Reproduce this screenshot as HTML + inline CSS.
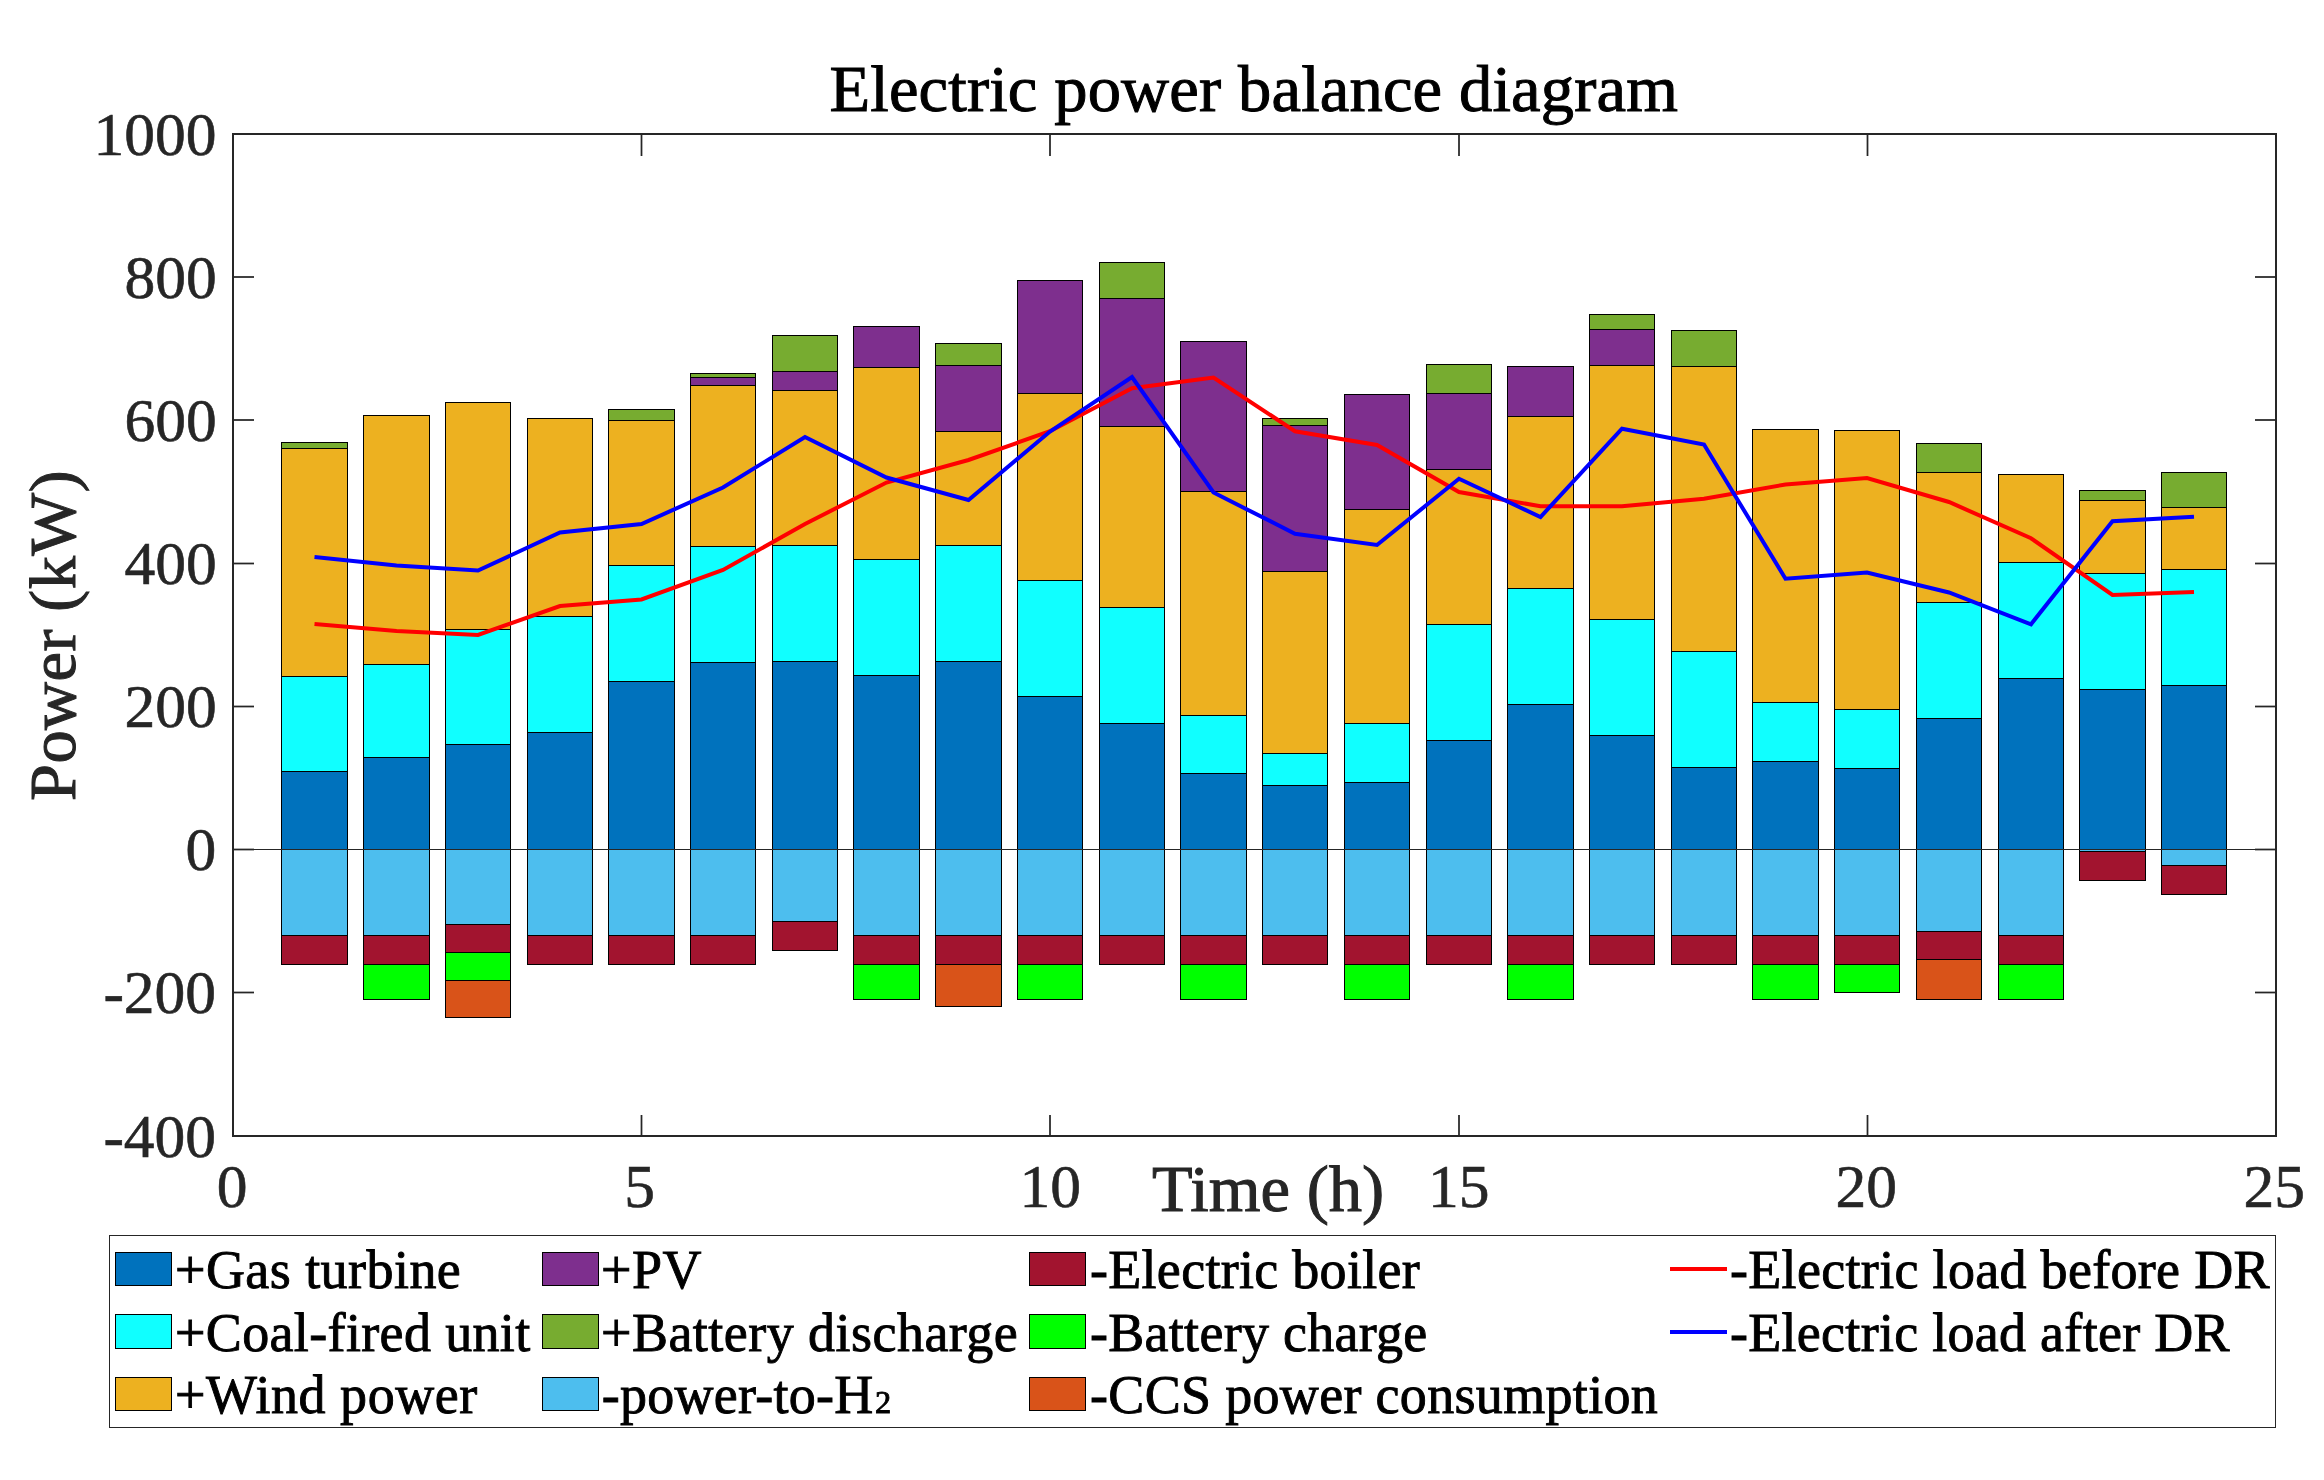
<!DOCTYPE html>
<html lang="en"><head><meta charset="utf-8"><title>Electric power balance diagram</title>
<style>html,body{margin:0;padding:0;background:#fff}body{width:2324px;height:1480px;overflow:hidden}svg{display:block}text{font-family:"Liberation Serif","Times New Roman",serif}.tk{font-size:61.5px;fill:#262626;stroke:#262626;stroke-width:0.6px}.lb{font-size:66.5px;fill:#262626;stroke:#262626;stroke-width:1px}.tt{font-size:66.5px;fill:#000;stroke:#000;stroke-width:1px}.lg{font-size:54px;fill:#000;stroke:#000;stroke-width:0.9px}</style></head><body>
<svg width="2324" height="1480" viewBox="0 0 2324 1480">
<rect width="2324" height="1480" fill="#fff"/>
<g shape-rendering="crispEdges" stroke="#000" stroke-width="1">
<rect x="281.5" y="442.5" width="66.0" height="6.0" fill="#77AC30"/>
<rect x="281.5" y="448.5" width="66.0" height="228.0" fill="#EDB120"/>
<rect x="281.5" y="676.5" width="66.0" height="95.0" fill="#10FFFF"/>
<rect x="281.5" y="771.5" width="66.0" height="78.0" fill="#0072BD"/>
<rect x="281.5" y="849.5" width="66.0" height="86.0" fill="#4DBEEE"/>
<rect x="281.5" y="935.5" width="66.0" height="29.0" fill="#A2142F"/>
<rect x="363.5" y="415.5" width="66.0" height="249.0" fill="#EDB120"/>
<rect x="363.5" y="664.5" width="66.0" height="93.0" fill="#10FFFF"/>
<rect x="363.5" y="757.5" width="66.0" height="92.0" fill="#0072BD"/>
<rect x="363.5" y="849.5" width="66.0" height="86.0" fill="#4DBEEE"/>
<rect x="363.5" y="935.5" width="66.0" height="29.0" fill="#A2142F"/>
<rect x="363.5" y="964.5" width="66.0" height="35.0" fill="#00FF00"/>
<rect x="445.5" y="402.5" width="65.0" height="227.0" fill="#EDB120"/>
<rect x="445.5" y="629.5" width="65.0" height="115.0" fill="#10FFFF"/>
<rect x="445.5" y="744.5" width="65.0" height="105.0" fill="#0072BD"/>
<rect x="445.5" y="849.5" width="65.0" height="75.0" fill="#4DBEEE"/>
<rect x="445.5" y="924.5" width="65.0" height="28.0" fill="#A2142F"/>
<rect x="445.5" y="952.5" width="65.0" height="28.0" fill="#00FF00"/>
<rect x="445.5" y="980.5" width="65.0" height="37.0" fill="#D95319"/>
<rect x="527.5" y="418.5" width="65.0" height="198.0" fill="#EDB120"/>
<rect x="527.5" y="616.5" width="65.0" height="116.0" fill="#10FFFF"/>
<rect x="527.5" y="732.5" width="65.0" height="117.0" fill="#0072BD"/>
<rect x="527.5" y="849.5" width="65.0" height="86.0" fill="#4DBEEE"/>
<rect x="527.5" y="935.5" width="65.0" height="29.0" fill="#A2142F"/>
<rect x="608.5" y="409.5" width="66.0" height="11.0" fill="#77AC30"/>
<rect x="608.5" y="420.5" width="66.0" height="145.0" fill="#EDB120"/>
<rect x="608.5" y="565.5" width="66.0" height="116.0" fill="#10FFFF"/>
<rect x="608.5" y="681.5" width="66.0" height="168.0" fill="#0072BD"/>
<rect x="608.5" y="849.5" width="66.0" height="86.0" fill="#4DBEEE"/>
<rect x="608.5" y="935.5" width="66.0" height="29.0" fill="#A2142F"/>
<rect x="690.5" y="373.5" width="65.0" height="4.0" fill="#77AC30"/>
<rect x="690.5" y="377.5" width="65.0" height="8.0" fill="#7E2F8E"/>
<rect x="690.5" y="385.5" width="65.0" height="161.0" fill="#EDB120"/>
<rect x="690.5" y="546.5" width="65.0" height="116.0" fill="#10FFFF"/>
<rect x="690.5" y="662.5" width="65.0" height="187.0" fill="#0072BD"/>
<rect x="690.5" y="849.5" width="65.0" height="86.0" fill="#4DBEEE"/>
<rect x="690.5" y="935.5" width="65.0" height="29.0" fill="#A2142F"/>
<rect x="772.5" y="335.5" width="65.0" height="36.0" fill="#77AC30"/>
<rect x="772.5" y="371.5" width="65.0" height="19.0" fill="#7E2F8E"/>
<rect x="772.5" y="390.5" width="65.0" height="155.0" fill="#EDB120"/>
<rect x="772.5" y="545.5" width="65.0" height="116.0" fill="#10FFFF"/>
<rect x="772.5" y="661.5" width="65.0" height="188.0" fill="#0072BD"/>
<rect x="772.5" y="849.5" width="65.0" height="72.0" fill="#4DBEEE"/>
<rect x="772.5" y="921.5" width="65.0" height="29.0" fill="#A2142F"/>
<rect x="853.5" y="326.5" width="66.0" height="41.0" fill="#7E2F8E"/>
<rect x="853.5" y="367.5" width="66.0" height="192.0" fill="#EDB120"/>
<rect x="853.5" y="559.5" width="66.0" height="116.0" fill="#10FFFF"/>
<rect x="853.5" y="675.5" width="66.0" height="174.0" fill="#0072BD"/>
<rect x="853.5" y="849.5" width="66.0" height="86.0" fill="#4DBEEE"/>
<rect x="853.5" y="935.5" width="66.0" height="29.0" fill="#A2142F"/>
<rect x="853.5" y="964.5" width="66.0" height="35.0" fill="#00FF00"/>
<rect x="935.5" y="343.5" width="66.0" height="22.0" fill="#77AC30"/>
<rect x="935.5" y="365.5" width="66.0" height="66.0" fill="#7E2F8E"/>
<rect x="935.5" y="431.5" width="66.0" height="114.0" fill="#EDB120"/>
<rect x="935.5" y="545.5" width="66.0" height="116.0" fill="#10FFFF"/>
<rect x="935.5" y="661.5" width="66.0" height="188.0" fill="#0072BD"/>
<rect x="935.5" y="849.5" width="66.0" height="86.0" fill="#4DBEEE"/>
<rect x="935.5" y="935.5" width="66.0" height="29.0" fill="#A2142F"/>
<rect x="935.5" y="964.5" width="66.0" height="42.0" fill="#D95319"/>
<rect x="1017.5" y="280.5" width="65.0" height="113.0" fill="#7E2F8E"/>
<rect x="1017.5" y="393.5" width="65.0" height="187.0" fill="#EDB120"/>
<rect x="1017.5" y="580.5" width="65.0" height="116.0" fill="#10FFFF"/>
<rect x="1017.5" y="696.5" width="65.0" height="153.0" fill="#0072BD"/>
<rect x="1017.5" y="849.5" width="65.0" height="86.0" fill="#4DBEEE"/>
<rect x="1017.5" y="935.5" width="65.0" height="29.0" fill="#A2142F"/>
<rect x="1017.5" y="964.5" width="65.0" height="35.0" fill="#00FF00"/>
<rect x="1099.5" y="262.5" width="65.0" height="36.0" fill="#77AC30"/>
<rect x="1099.5" y="298.5" width="65.0" height="128.0" fill="#7E2F8E"/>
<rect x="1099.5" y="426.5" width="65.0" height="181.0" fill="#EDB120"/>
<rect x="1099.5" y="607.5" width="65.0" height="116.0" fill="#10FFFF"/>
<rect x="1099.5" y="723.5" width="65.0" height="126.0" fill="#0072BD"/>
<rect x="1099.5" y="849.5" width="65.0" height="86.0" fill="#4DBEEE"/>
<rect x="1099.5" y="935.5" width="65.0" height="29.0" fill="#A2142F"/>
<rect x="1180.5" y="341.5" width="66.0" height="150.0" fill="#7E2F8E"/>
<rect x="1180.5" y="491.5" width="66.0" height="224.0" fill="#EDB120"/>
<rect x="1180.5" y="715.5" width="66.0" height="58.0" fill="#10FFFF"/>
<rect x="1180.5" y="773.5" width="66.0" height="76.0" fill="#0072BD"/>
<rect x="1180.5" y="849.5" width="66.0" height="86.0" fill="#4DBEEE"/>
<rect x="1180.5" y="935.5" width="66.0" height="29.0" fill="#A2142F"/>
<rect x="1180.5" y="964.5" width="66.0" height="35.0" fill="#00FF00"/>
<rect x="1262.5" y="418.5" width="65.0" height="7.0" fill="#77AC30"/>
<rect x="1262.5" y="425.5" width="65.0" height="146.0" fill="#7E2F8E"/>
<rect x="1262.5" y="571.5" width="65.0" height="182.0" fill="#EDB120"/>
<rect x="1262.5" y="753.5" width="65.0" height="32.0" fill="#10FFFF"/>
<rect x="1262.5" y="785.5" width="65.0" height="64.0" fill="#0072BD"/>
<rect x="1262.5" y="849.5" width="65.0" height="86.0" fill="#4DBEEE"/>
<rect x="1262.5" y="935.5" width="65.0" height="29.0" fill="#A2142F"/>
<rect x="1344.5" y="394.5" width="65.0" height="115.0" fill="#7E2F8E"/>
<rect x="1344.5" y="509.5" width="65.0" height="214.0" fill="#EDB120"/>
<rect x="1344.5" y="723.5" width="65.0" height="59.0" fill="#10FFFF"/>
<rect x="1344.5" y="782.5" width="65.0" height="67.0" fill="#0072BD"/>
<rect x="1344.5" y="849.5" width="65.0" height="86.0" fill="#4DBEEE"/>
<rect x="1344.5" y="935.5" width="65.0" height="29.0" fill="#A2142F"/>
<rect x="1344.5" y="964.5" width="65.0" height="35.0" fill="#00FF00"/>
<rect x="1426.5" y="364.5" width="65.0" height="29.0" fill="#77AC30"/>
<rect x="1426.5" y="393.5" width="65.0" height="76.0" fill="#7E2F8E"/>
<rect x="1426.5" y="469.5" width="65.0" height="155.0" fill="#EDB120"/>
<rect x="1426.5" y="624.5" width="65.0" height="116.0" fill="#10FFFF"/>
<rect x="1426.5" y="740.5" width="65.0" height="109.0" fill="#0072BD"/>
<rect x="1426.5" y="849.5" width="65.0" height="86.0" fill="#4DBEEE"/>
<rect x="1426.5" y="935.5" width="65.0" height="29.0" fill="#A2142F"/>
<rect x="1507.5" y="366.5" width="66.0" height="50.0" fill="#7E2F8E"/>
<rect x="1507.5" y="416.5" width="66.0" height="172.0" fill="#EDB120"/>
<rect x="1507.5" y="588.5" width="66.0" height="116.0" fill="#10FFFF"/>
<rect x="1507.5" y="704.5" width="66.0" height="145.0" fill="#0072BD"/>
<rect x="1507.5" y="849.5" width="66.0" height="86.0" fill="#4DBEEE"/>
<rect x="1507.5" y="935.5" width="66.0" height="29.0" fill="#A2142F"/>
<rect x="1507.5" y="964.5" width="66.0" height="35.0" fill="#00FF00"/>
<rect x="1589.5" y="314.5" width="65.0" height="15.0" fill="#77AC30"/>
<rect x="1589.5" y="329.5" width="65.0" height="36.0" fill="#7E2F8E"/>
<rect x="1589.5" y="365.5" width="65.0" height="254.0" fill="#EDB120"/>
<rect x="1589.5" y="619.5" width="65.0" height="116.0" fill="#10FFFF"/>
<rect x="1589.5" y="735.5" width="65.0" height="114.0" fill="#0072BD"/>
<rect x="1589.5" y="849.5" width="65.0" height="86.0" fill="#4DBEEE"/>
<rect x="1589.5" y="935.5" width="65.0" height="29.0" fill="#A2142F"/>
<rect x="1671.5" y="330.5" width="65.0" height="36.0" fill="#77AC30"/>
<rect x="1671.5" y="366.5" width="65.0" height="285.0" fill="#EDB120"/>
<rect x="1671.5" y="651.5" width="65.0" height="116.0" fill="#10FFFF"/>
<rect x="1671.5" y="767.5" width="65.0" height="82.0" fill="#0072BD"/>
<rect x="1671.5" y="849.5" width="65.0" height="86.0" fill="#4DBEEE"/>
<rect x="1671.5" y="935.5" width="65.0" height="29.0" fill="#A2142F"/>
<rect x="1752.5" y="429.5" width="66.0" height="273.0" fill="#EDB120"/>
<rect x="1752.5" y="702.5" width="66.0" height="59.0" fill="#10FFFF"/>
<rect x="1752.5" y="761.5" width="66.0" height="88.0" fill="#0072BD"/>
<rect x="1752.5" y="849.5" width="66.0" height="86.0" fill="#4DBEEE"/>
<rect x="1752.5" y="935.5" width="66.0" height="29.0" fill="#A2142F"/>
<rect x="1752.5" y="964.5" width="66.0" height="35.0" fill="#00FF00"/>
<rect x="1834.5" y="430.5" width="65.0" height="279.0" fill="#EDB120"/>
<rect x="1834.5" y="709.5" width="65.0" height="59.0" fill="#10FFFF"/>
<rect x="1834.5" y="768.5" width="65.0" height="81.0" fill="#0072BD"/>
<rect x="1834.5" y="849.5" width="65.0" height="86.0" fill="#4DBEEE"/>
<rect x="1834.5" y="935.5" width="65.0" height="29.0" fill="#A2142F"/>
<rect x="1834.5" y="964.5" width="65.0" height="28.0" fill="#00FF00"/>
<rect x="1916.5" y="443.5" width="65.0" height="29.0" fill="#77AC30"/>
<rect x="1916.5" y="472.5" width="65.0" height="130.0" fill="#EDB120"/>
<rect x="1916.5" y="602.5" width="65.0" height="116.0" fill="#10FFFF"/>
<rect x="1916.5" y="718.5" width="65.0" height="131.0" fill="#0072BD"/>
<rect x="1916.5" y="849.5" width="65.0" height="82.0" fill="#4DBEEE"/>
<rect x="1916.5" y="931.5" width="65.0" height="28.0" fill="#A2142F"/>
<rect x="1916.5" y="959.5" width="65.0" height="40.0" fill="#D95319"/>
<rect x="1998.5" y="474.5" width="65.0" height="88.0" fill="#EDB120"/>
<rect x="1998.5" y="562.5" width="65.0" height="116.0" fill="#10FFFF"/>
<rect x="1998.5" y="678.5" width="65.0" height="171.0" fill="#0072BD"/>
<rect x="1998.5" y="849.5" width="65.0" height="86.0" fill="#4DBEEE"/>
<rect x="1998.5" y="935.5" width="65.0" height="29.0" fill="#A2142F"/>
<rect x="1998.5" y="964.5" width="65.0" height="35.0" fill="#00FF00"/>
<rect x="2079.5" y="490.5" width="66.0" height="10.0" fill="#77AC30"/>
<rect x="2079.5" y="500.5" width="66.0" height="73.0" fill="#EDB120"/>
<rect x="2079.5" y="573.5" width="66.0" height="116.0" fill="#10FFFF"/>
<rect x="2079.5" y="689.5" width="66.0" height="160.0" fill="#0072BD"/>
<rect x="2079.5" y="849.5" width="66.0" height="2.0" fill="#4DBEEE"/>
<rect x="2079.5" y="851.5" width="66.0" height="29.0" fill="#A2142F"/>
<rect x="2161.5" y="472.5" width="65.0" height="35.0" fill="#77AC30"/>
<rect x="2161.5" y="507.5" width="65.0" height="62.0" fill="#EDB120"/>
<rect x="2161.5" y="569.5" width="65.0" height="116.0" fill="#10FFFF"/>
<rect x="2161.5" y="685.5" width="65.0" height="164.0" fill="#0072BD"/>
<rect x="2161.5" y="849.5" width="65.0" height="16.0" fill="#4DBEEE"/>
<rect x="2161.5" y="865.5" width="65.0" height="29.0" fill="#A2142F"/>
</g>
<line x1="233" y1="849.5" x2="2276" y2="849.5" stroke="#262626" stroke-width="1" shape-rendering="crispEdges"/>
<polyline fill="none" stroke="#FF0000" stroke-width="4" stroke-linejoin="miter" points="314.5,624 396.5,631 478.0,635 560.0,606 641.5,599.5 723.0,570 805.0,524 886.5,482.5 968.5,460 1050.0,431.25 1132.0,388.25 1213.5,377.5 1295.0,431.25 1377.0,445 1459.0,492 1540.5,506.25 1622.0,506.25 1704.0,498.75 1785.5,484.5 1867.0,478 1949.0,502 2031.0,538.25 2112.5,595 2194.0,592"/>
<polyline fill="none" stroke="#0000FF" stroke-width="4" stroke-linejoin="miter" points="314.5,557 396.5,565.5 478.0,570.5 560.0,532.5 641.5,524 723.0,487.5 805.0,437 886.5,477.5 968.5,500 1050.0,431.5 1132.0,377 1213.5,492.5 1295.0,533.75 1377.0,545 1459.0,478.75 1540.5,517 1622.0,428.75 1704.0,444.5 1785.5,578.75 1867.0,572.5 1949.0,592.5 2031.0,624.25 2112.5,521.25 2194.0,516.75"/>
<g stroke="#262626" shape-rendering="crispEdges" fill="none">
<rect x="233" y="134" width="2043" height="1002" stroke-width="2"/>
</g><g stroke="#262626" fill="none">
<line x1="641.5" y1="1136" x2="641.5" y2="1115" stroke-width="1.75"/>
<line x1="641.5" y1="134" x2="641.5" y2="156" stroke-width="1.75"/>
<line x1="1050" y1="1136" x2="1050" y2="1115" stroke-width="1.75"/>
<line x1="1050" y1="134" x2="1050" y2="156" stroke-width="1.75"/>
<line x1="1459" y1="1136" x2="1459" y2="1115" stroke-width="1.75"/>
<line x1="1459" y1="134" x2="1459" y2="156" stroke-width="1.75"/>
<line x1="1867.5" y1="1136" x2="1867.5" y2="1115" stroke-width="1.75"/>
<line x1="1867.5" y1="134" x2="1867.5" y2="156" stroke-width="1.75"/>
<line x1="233" y1="277" x2="254" y2="277" stroke-width="1.75"/>
<line x1="2276" y1="277" x2="2255" y2="277" stroke-width="1.75"/>
<line x1="233" y1="420" x2="254" y2="420" stroke-width="1.75"/>
<line x1="2276" y1="420" x2="2255" y2="420" stroke-width="1.75"/>
<line x1="233" y1="563.5" x2="254" y2="563.5" stroke-width="1.75"/>
<line x1="2276" y1="563.5" x2="2255" y2="563.5" stroke-width="1.75"/>
<line x1="233" y1="706.5" x2="254" y2="706.5" stroke-width="1.75"/>
<line x1="2276" y1="706.5" x2="2255" y2="706.5" stroke-width="1.75"/>
<line x1="233" y1="849.5" x2="254" y2="849.5" stroke-width="1.75"/>
<line x1="2276" y1="849.5" x2="2255" y2="849.5" stroke-width="1.75"/>
<line x1="233" y1="992.5" x2="254" y2="992.5" stroke-width="1.75"/>
<line x1="2276" y1="992.5" x2="2255" y2="992.5" stroke-width="1.75"/>
</g>
<text class="tk" x="93.4" y="154.7">1000</text>
<text class="tk" x="124.4" y="297.7">800</text>
<text class="tk" x="124.4" y="440.7">600</text>
<text class="tk" x="124.4" y="584.2">400</text>
<text class="tk" x="124.4" y="727.2">200</text>
<text class="tk" x="185.4" y="870.2">0</text>
<text class="tk" x="103.4" y="1013.2">-200</text>
<text class="tk" x="103.4" y="1156.7">-400</text>
<text class="tk" x="216.75" y="1207">0</text>
<text class="tk" x="624.25" y="1207">5</text>
<text class="tk" x="1019.62" y="1207">10</text>
<text class="tk" x="1428.0" y="1207">15</text>
<text class="tk" x="1835.5" y="1207">20</text>
<text class="tk" x="2243.5" y="1207">25</text>
<text class="lb" x="1152" y="1211.25" textLength="232.17" lengthAdjust="spacing">Time (h)</text>
<text class="lb" transform="translate(75,800) rotate(-90)" x="-1" y="0" textLength="330.75" lengthAdjust="spacing">Power (kW)</text>
<text class="tt" x="829.5" y="111" textLength="848.37" lengthAdjust="spacing">Electric power balance diagram</text>
<text class="lg" x="175" y="1288" textLength="285.8" lengthAdjust="spacing">+Gas turbine</text>
<text class="lg" x="175" y="1350.5" textLength="355.21" lengthAdjust="spacing">+Coal-fired unit</text>
<text class="lg" x="175" y="1412.7" textLength="302.22" lengthAdjust="spacing">+Wind power</text>
<text class="lg" x="601" y="1288" textLength="100.61" lengthAdjust="spacing">+PV</text>
<text class="lg" x="601" y="1350.5" textLength="416.77" lengthAdjust="spacing">+Battery discharge</text>
<text class="lg" x="601.75" y="1412.7" textLength="290.52" lengthAdjust="spacing">-power-to-H<tspan dy="-10.5">₂</tspan></text>
<text class="lg" x="1090" y="1288" textLength="329.77" lengthAdjust="spacing">-Electric boiler</text>
<text class="lg" x="1090" y="1350.5" textLength="337.22" lengthAdjust="spacing">-Battery charge</text>
<text class="lg" x="1090" y="1412.7" textLength="567.81" lengthAdjust="spacing">-CCS power consumption</text>
<text class="lg" x="1730" y="1288" textLength="539.55" lengthAdjust="spacing">-Electric load before DR</text>
<text class="lg" x="1730" y="1350.5" textLength="499.54" lengthAdjust="spacing">-Electric load after DR</text>
<rect x="109.5" y="1235.5" width="2166" height="192" fill="none" stroke="#262626" stroke-width="1" shape-rendering="crispEdges"/>
<rect x="115.5" y="1252.5" width="56" height="33" fill="#0072BD" stroke="#000" stroke-width="1" shape-rendering="crispEdges"/>
<rect x="115.5" y="1314.5" width="56" height="34" fill="#10FFFF" stroke="#000" stroke-width="1" shape-rendering="crispEdges"/>
<rect x="115.5" y="1377.5" width="56" height="33" fill="#EDB120" stroke="#000" stroke-width="1" shape-rendering="crispEdges"/>
<rect x="542.5" y="1252.5" width="56" height="33" fill="#7E2F8E" stroke="#000" stroke-width="1" shape-rendering="crispEdges"/>
<rect x="542.5" y="1314.5" width="56" height="34" fill="#77AC30" stroke="#000" stroke-width="1" shape-rendering="crispEdges"/>
<rect x="542.5" y="1377.5" width="56" height="33" fill="#4DBEEE" stroke="#000" stroke-width="1" shape-rendering="crispEdges"/>
<rect x="1029.5" y="1252.5" width="56" height="33" fill="#A2142F" stroke="#000" stroke-width="1" shape-rendering="crispEdges"/>
<rect x="1029.5" y="1314.5" width="56" height="34" fill="#00FF00" stroke="#000" stroke-width="1" shape-rendering="crispEdges"/>
<rect x="1029.5" y="1377.5" width="56" height="33" fill="#D95319" stroke="#000" stroke-width="1" shape-rendering="crispEdges"/>
<line x1="1670" y1="1269" x2="1727" y2="1269" stroke="#FF0000" stroke-width="4" shape-rendering="crispEdges"/>
<line x1="1670" y1="1332" x2="1727" y2="1332" stroke="#0000FF" stroke-width="4" shape-rendering="crispEdges"/>
</svg></body></html>
